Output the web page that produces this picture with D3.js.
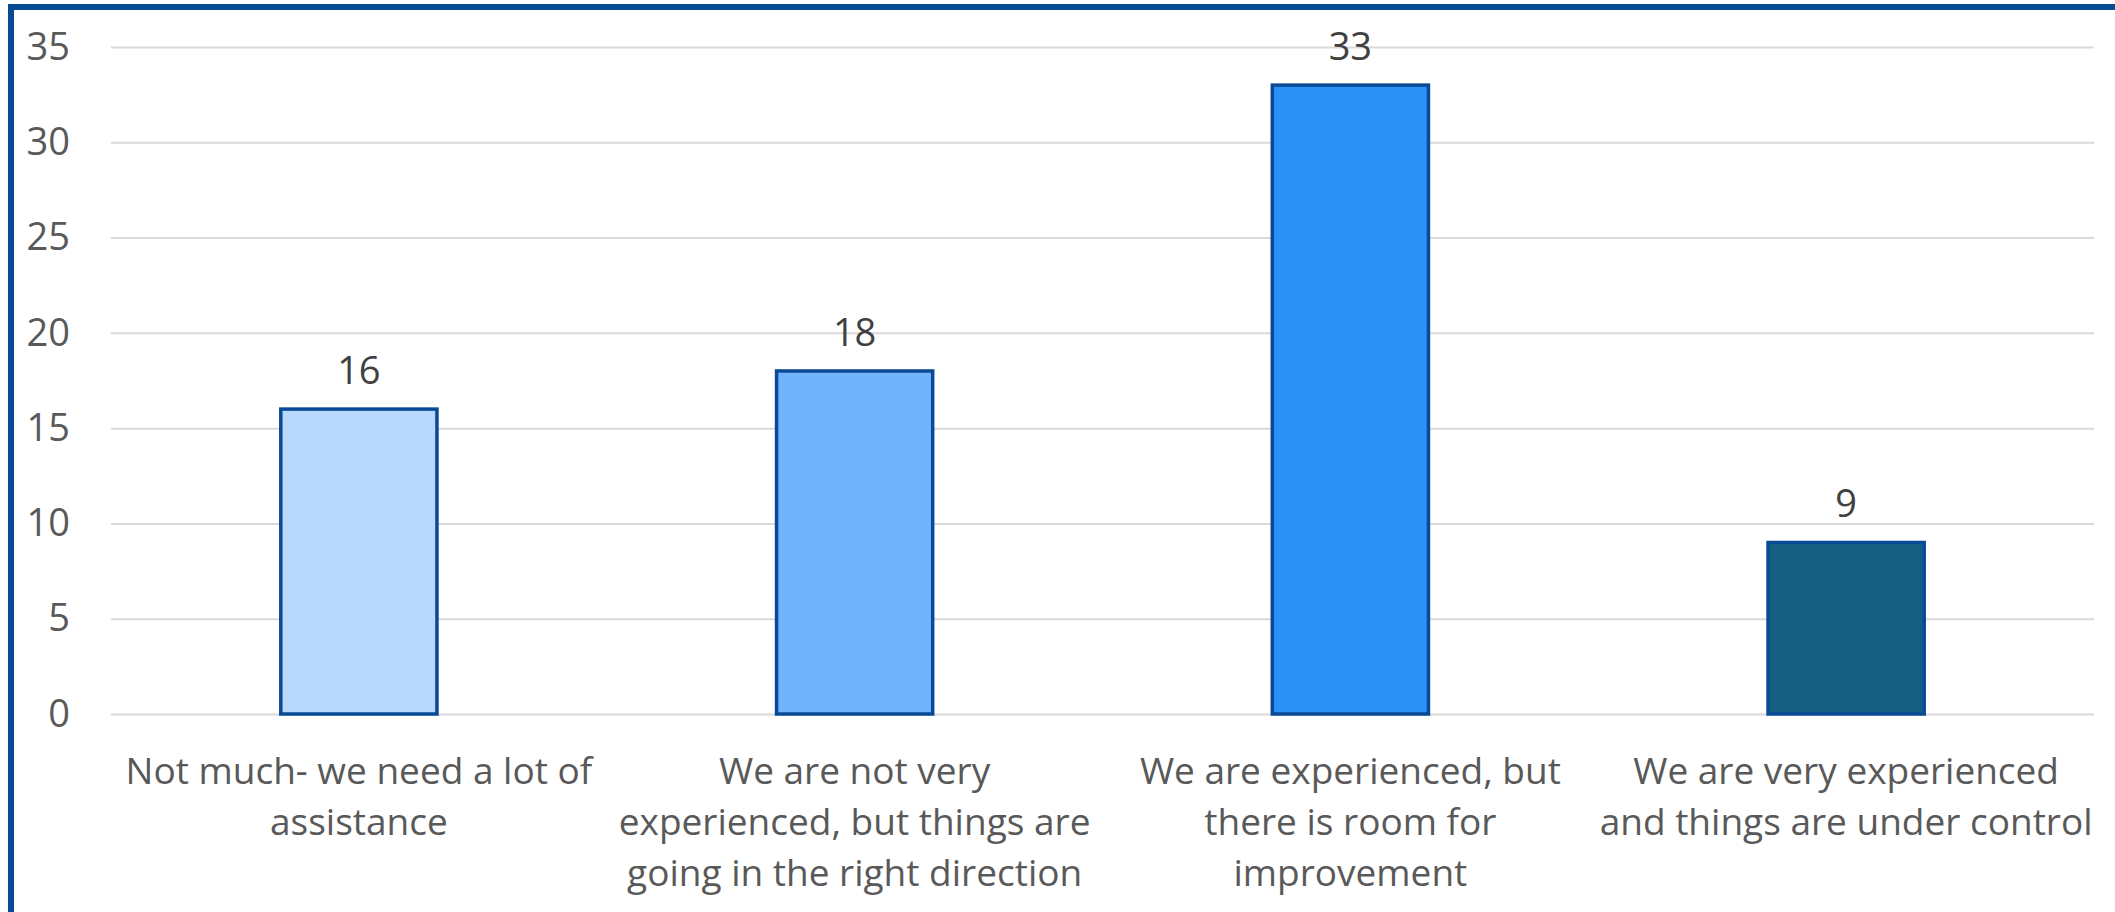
<!DOCTYPE html>
<html>
<head>
<meta charset="utf-8">
<script src="https://d3js.org/d3.v7.min.js"></script>
<style>
  body { margin: 0; background: #fff; }
  svg { display: block; font-family: "Open Sans", sans-serif; }
</style>
</head>
<body>
<script>
var categories = [
  ["Not much- we need a lot of", "assistance"],
  ["We are not very", "experienced, but things are", "going in the right direction"],
  ["We are experienced, but", "there is room for", "improvement"],
  ["We are very experienced", "and things are under control"]
];
var values = [16, 18, 33, 9];
var barColors = ["#b8d9fb", "#71b4fb", "#2b91f7", "#175f82"];
var yTicks = [0, 5, 10, 15, 20, 25, 30, 35];

var w       = 2115,
    h       = 912,
    padL    = 111,
    padR    = 2094,
    padTop  = 47,
    padBot  = 714;

var svg = d3.select("body")
  .append("svg")
  .attr("width", w)
  .attr("height", h);

var x = d3.scaleBand()
  .domain(d3.range(values.length))
  .range([padL, padR])
  .paddingInner(0.685)
  .paddingOuter(0.3425);

var y = d3.scaleLinear()
  .domain([0, 35])
  .range([padBot, padTop]);

// gridlines + tick labels
var yAxis = d3.axisLeft(y)
  .tickValues(yTicks)
  .tickSize(-(padR - padL))
  .tickPadding(41);

svg.append("g")
  .attr("transform", "translate(" + padL + ",0)")
  .call(yAxis)
  .call(function (g) {
    g.select(".domain").remove();
    g.selectAll(".tick line").attr("stroke", "#d9d9d9").attr("stroke-width", 2);
    g.selectAll(".tick text")
      .attr("fill", "#595959")
      .attr("font-size", 38)
      .attr("font-family", "Open Sans");
  });

svg.selectAll("rect.bar")
  .data(values)
  .enter()
  .append("rect")
  .attr("class", "bar")
  .attr("x", function (d, i) { return x(i); })
  .attr("y", function (d) { return y(d); })
  .attr("width", x.bandwidth())
  .attr("height", function (d) { return y(0) - y(d); })
  .attr("fill", function (d, i) { return barColors[i]; })
  .attr("stroke", "#0a4a94")
  .attr("stroke-width", 3.5);

svg.selectAll("text.val")
  .data(values)
  .enter()
  .append("text")
  .attr("class", "val")
  .attr("x", function (d, i) { return x(i) + x.bandwidth() / 2; })
  .attr("y", function (d) { return y(d) - 25; })
  .attr("text-anchor", "middle")
  .attr("fill", "#404040")
  .attr("font-size", 38)
  .text(function (d) { return d; });

// category labels
var cat = svg.selectAll("text.cat")
  .data(categories)
  .enter()
  .append("text")
  .attr("class", "cat")
  .attr("text-anchor", "middle")
  .attr("fill", "#595959")
  .attr("font-size", 37);

cat.selectAll("tspan")
  .data(function (d, i) { return d.map(function (s) { return { s: s, i: i }; }); })
  .enter()
  .append("tspan")
  .attr("x", function (d) { return x(d.i) + x.bandwidth() / 2; })
  .attr("y", function (d, j) { return 784 + j * 51; })
  .text(function (d) { return d.s; });

// frame
svg.append("path")
  .attr("d", "M11," + h + "V7H" + w)
  .attr("fill", "none")
  .attr("stroke", "#064a96")
  .attr("stroke-width", 6);
</script>
</body>
</html>
